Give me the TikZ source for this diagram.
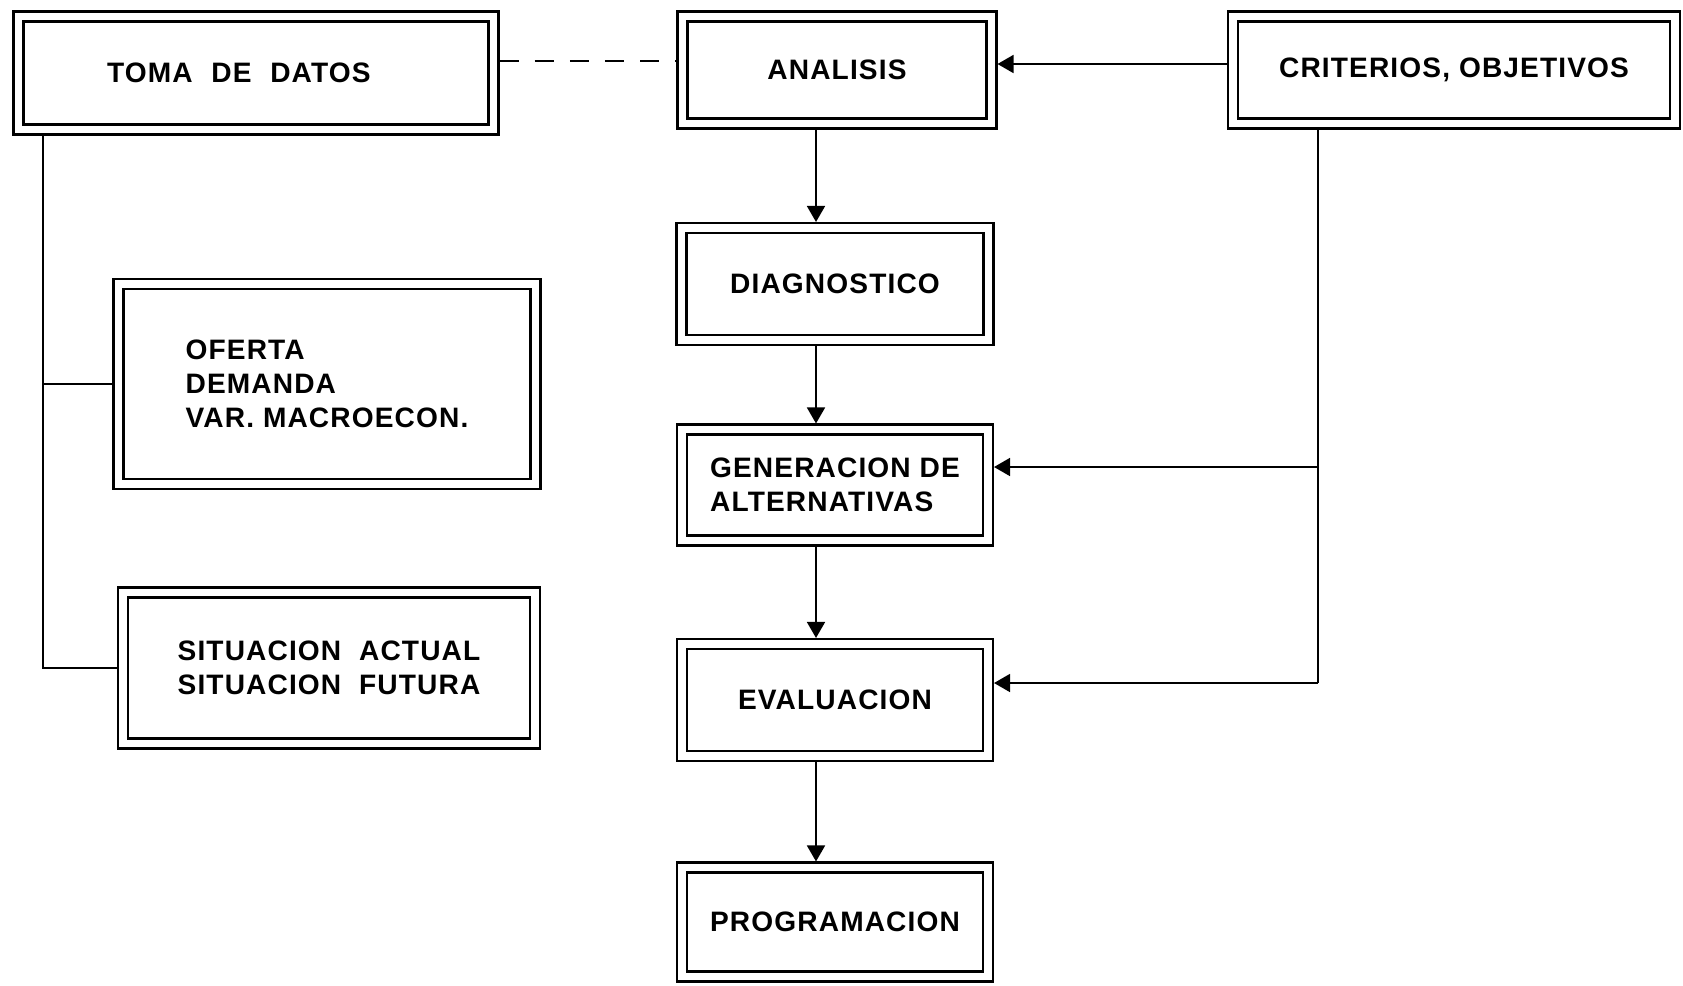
\documentclass[tikz,border=0pt]{standalone}
\usepackage{fontspec}
\setmainfont{Liberation Sans}[LetterSpace=4]
\usetikzlibrary{arrows.meta}
\begin{document}
\begin{tikzpicture}[x=0.02cm,y=-0.02cm,
  box/.style={draw,double,line width=1.3pt,double distance=4.3pt,outer sep=3.45pt,inner sep=0pt,
    font=\bfseries\fontsize{16}{19.5}\selectfont},
  link/.style={line width=1pt},
  arr/.style={link,-{Triangle[width=0.36cm,length=0.32cm]}}]
\useasboundingbox (0,0) rectangle (1683,985);
\node[box,minimum width=9.5cm,minimum height=2.26cm,text width=5.96cm,align=left] (toma) at (256,73) {TOMA\ \ DE\ \ DATOS};
\node[box,minimum width=6.18cm,minimum height=2.14cm] (analisis) at (837,70) {ANALISIS};
\node[box,minimum width=8.84cm,minimum height=2.14cm] (criterios) at (1454,70) {CRITERIOS, OBJETIVOS};
\node[box,minimum width=6.14cm,minimum height=2.24cm] (diag) at (835,284) {DIAGNOSTICO};
\node[box,minimum width=6.12cm,minimum height=2.22cm,align=left] (gen) at (835,485) {GENERACION DE\\ALTERNATIVAS};
\node[box,minimum width=6.12cm,minimum height=2.24cm] (eval) at (835,700) {EVALUACION};
\node[box,minimum width=6.12cm,minimum height=2.18cm] (prog) at (835,922) {PROGRAMACION};
\node[box,minimum width=8.34cm,minimum height=4.0cm,align=left] (oferta) at (327,384) {OFERTA\\DEMANDA\\VAR. MACROECON.};
\node[box,minimum width=8.24cm,minimum height=3.02cm,align=left] (sit) at (329,668) {SITUACION\ \ ACTUAL\\SITUACION\ \ FUTURA};
\coordinate (lx) at (43,0);
\coordinate (cx) at (816,0);
\coordinate (rx) at (1318,0);
\coordinate (dash) at (0,61);
\coordinate (crit) at (0,64);
\coordinate (rg) at (1318,467);
\coordinate (re) at (1318,683);
\draw[link,dash pattern=on 11pt off 9pt] (toma.east |- dash) -- (analisis.west |- dash);
\draw[arr] (criterios.west |- crit) -- (analisis.east |- crit);
\draw[arr] (analisis.south -| cx) -- (diag.north -| cx);
\draw[arr] (diag.south -| cx) -- (gen.north -| cx);
\draw[arr] (gen.south -| cx) -- (eval.north -| cx);
\draw[arr] (eval.south -| cx) -- (prog.north -| cx);
\draw[link] (toma.south -| lx) -- (lx |- sit.west) -- (sit.west);
\draw[link] (lx |- oferta.west) -- (oferta.west);
\draw[link] (criterios.south -| rx) -- (re);
\draw[arr] (rg) -- (rg -| gen.east);
\draw[arr] (re) -- (re -| eval.east);
\end{tikzpicture}
\end{document}
